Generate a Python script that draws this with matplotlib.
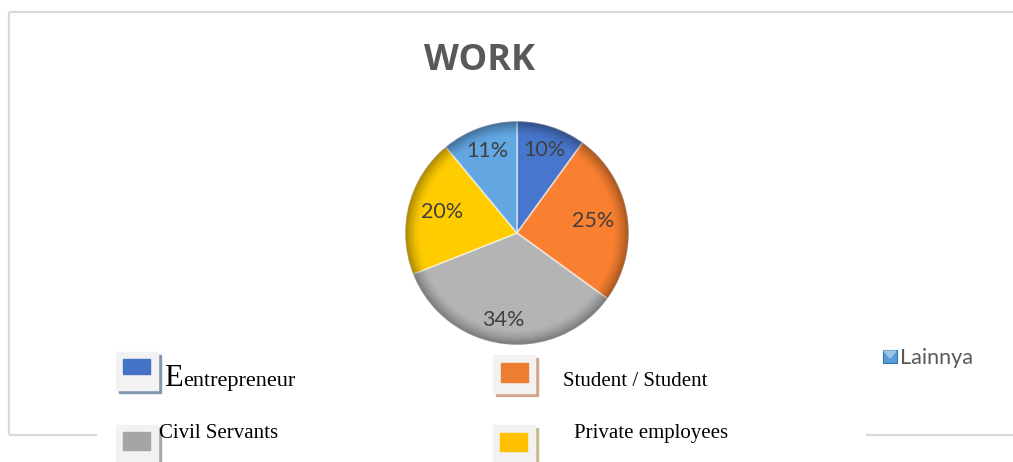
import matplotlib.pyplot as plt
import matplotlib.patches as mpatches
import numpy as np

# work categories, clockwise from 12 o'clock
categories = ["Entrepreneur", "Student / Student", "Civil Servants",
              "Private employees", "Lainnya"]
shares = [10, 25, 34, 20, 11]
colors = ["#4472C4", "#ED7D31", "#A5A5A5", "#FFC000", "#5B9BD5"]
pie_colors = ["#4876CC", "#F88030", "#B4B4B4", "#FFCC00", "#62A6E2"]
shadow_colors = ["#8497B0", "#D3A78C", "#A6A6A6", "#C8B88A"]

W, H = 1013, 462
fig = plt.figure(figsize=(W / 100, H / 100), dpi=100)

# background layer in pixel units
bg = fig.add_axes([0, 0, 1, 1])
bg.set_xlim(0, W)
bg.set_ylim(H, 0)
bg.axis("off")
line_kw = dict(color="#D9D9D9", lw=1.6, solid_capstyle="butt")
bg.plot([9, W], [12, 12], **line_kw)
bg.plot([9, 9], [12, 435], **line_kw)
bg.plot([9, 97], [435, 435], **line_kw)
bg.plot([866, W], [435, 435], **line_kw)

bg.text(479, 70, "WORK", ha="center", va="baseline", fontsize=26,
        fontweight="bold", color="#595959", family="Open Sans")

# pie
pax = fig.add_axes([403 / W, (H - 347) / H, 228 / W, 228 / H])
wedges, _ = pax.pie(shares, colors=pie_colors, startangle=90,
                    counterclock=False, radius=1.0,
                    wedgeprops=dict(edgecolor="white", linewidth=1.2))
for w in wedges:
    w.set_edgecolor((1, 1, 1, 0.55))

# rim shading for a bevelled look
g = np.linspace(-1, 1, 400)
xx, yy = np.meshgrid(g, g)
rr = np.sqrt(xx ** 2 + yy ** 2)
shade = np.zeros((400, 400, 4))
shade[..., 3] = np.clip((rr - 0.86) / 0.14, 0, 1) ** 1.5 * 0.35
im = pax.imshow(shade, extent=(-1, 1, -1, 1), zorder=5)
im.set_clip_path(mpatches.Circle((0, 0), 1.0, transform=pax.transData))

# percentage labels at each slice's mid angle
angle_shift = [0, 0, -2, -1, 0]
dist = [0.78, 0.69, 0.79, 0.70, 0.78]
start = 90.0
for val, sh, d in zip(shares, angle_shift, dist):
    mid = start - val * 3.6 / 2 + sh
    a = np.deg2rad(mid)
    pax.text(d * np.cos(a), d * np.sin(a), f"{val}%", ha="center",
             va="center", fontsize=15.5, color="#404040", family="Lato",
             zorder=6)
    start -= val * 3.6
pax.set_xlim(-1.02, 1.02)
pax.set_ylim(-1.02, 1.02)
pax.axis("off")

# legend layer
lg = fig.add_axes([0, 0, 1, 1])
lg.set_xlim(0, W)
lg.set_ylim(H, 0)
lg.axis("off")
lg.patch.set_alpha(0)

boxes = [(116, 352, 123, 359, 15), (493, 355, 501, 363, 19),
         (116, 425, 123, 432, 18), (493, 425, 500, 433, 18)]
for (bx, by, ix, iy, ih), c, sc in zip(boxes, colors, shadow_colors):
    lg.add_patch(mpatches.Rectangle((bx + 3, by + 3), 42, 38, color=sc))
    lg.add_patch(mpatches.Rectangle((bx, by), 42, 38, color="#F2F2F2"))
    lg.add_patch(mpatches.Rectangle((ix, iy), 27, ih, color=c))

serif = "Liberation Serif"
big_e = lg.text(164, 386, categories[0][0], fontsize=22, family=serif,
                color="black", va="baseline")
# rest of the word follows the big initial on the same baseline
fig.canvas.draw()
e_right = big_e.get_window_extent().x1
x_rest = lg.transData.inverted().transform((e_right, 0))[0]
lg.text(x_rest, 386, "e" + categories[0][1:].lower(), fontsize=16,
        family=serif, color="black", va="baseline")
lg.text(563, 386, categories[1], fontsize=15, family=serif, color="black")
lg.text(159, 438, categories[2], fontsize=15, family=serif, color="black")
lg.text(574, 438, categories[3], fontsize=15, family=serif, color="black")

lg.add_patch(mpatches.Rectangle((883, 350), 14, 13, facecolor=colors[4],
                                edgecolor="#2E75B6", lw=0.8))
lg.add_patch(mpatches.Polygon([(884, 351), (896, 351), (890, 358)],
                              color="#9DC3E6"))
lg.text(900, 364, categories[4], fontsize=15.5, family="Lato",
        color="#595959")

fig.savefig("out.png", dpi=100)
